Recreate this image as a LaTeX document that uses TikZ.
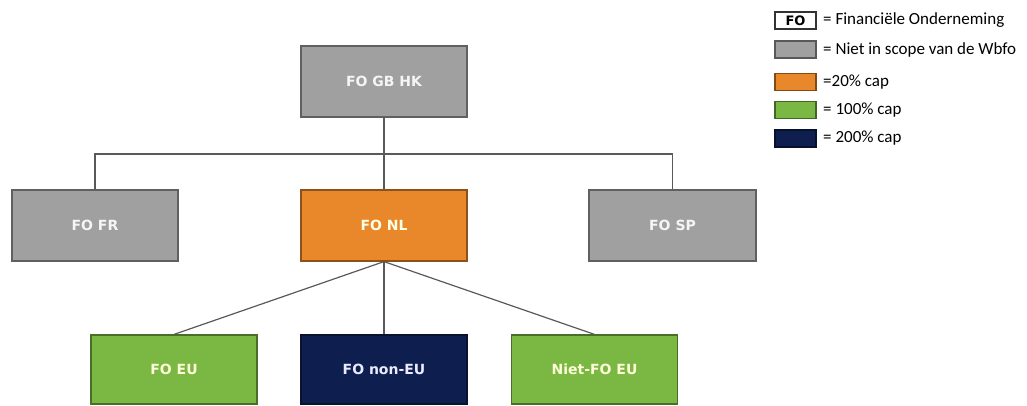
\documentclass[tikz,border=0pt]{standalone}
\usepackage{fontspec}
\setmainfont{Carlito}
\newfontfamily\boxfont{DejaVu Sans}
\begin{document}
\begin{tikzpicture}[x=1pt,y=1pt,
  box/.style={draw=#1!60!black, line width=1.2pt, minimum width=166pt, minimum height=71pt, inner sep=0pt,
    font=\boxfont\bfseries\fontsize{14}{16}\selectfont, text=white!92!gray},
  lbox/.style={draw=#1!55!black, line width=1.1pt, minimum width=41pt, minimum height=17pt, inner sep=0pt},
  ltext/.style={anchor=west, font=\fontsize{17}{19}\selectfont, inner sep=0pt},
  conn/.style={draw=black!65, line width=1.2pt}]
\definecolor{fogrey}{HTML}{A0A0A0}
\definecolor{foorange}{HTML}{E8882A}
\definecolor{fogreen}{HTML}{7AB843}
\definecolor{fonavy}{HTML}{0E1F4F}
\useasboundingbox (0,0) rectangle (1027,405);
% main boxes
\node[box=fogrey, fill=fogrey] (gb) at (384,323.5) {FO GB HK};
\node[box=fogrey, fill=fogrey] (fr) at (95,179.5) {FO FR};
\node[box=foorange, fill=foorange, text=white!90!yellow] (nl) at (384,179.5) {FO NL};
\node[box=fogrey, fill=fogrey, minimum width=167pt] (sp) at (672.5,179.5) {FO SP};
\node[box=fogreen, fill=fogreen, minimum height=69pt, text=white!85!yellow] (eu) at (174,35.5) {FO EU};
\node[box=fonavy, fill=fonavy, minimum height=69pt, text=white!92!blue] (neu) at (384,35.5) {FO non-EU};
\node[box=fogreen, fill=fogreen, minimum height=69pt, text=white!85!yellow] (nfo) at (594.5,35.5) {Niet-FO EU};
% connectors
\coordinate (bar) at (384,251);
\draw[conn] (gb.south) -- (nl.north);
\draw[conn] (fr.north) |- (bar) -| (sp.north);
\draw[conn] (nl.south) -- (eu.north);
\draw[conn] (nl.south) -- (neu.north);
\draw[conn] (nl.south) -- (nfo.north);
% legend
\node[lbox=white, draw=black!80, fill=white, font=\boxfont\bfseries\fontsize{13}{14}\selectfont] (l1) at (795.5,384.5) {FO};
\node[lbox=fogrey, fill=fogrey] (l2) at (795.5,355.5) {};
\node[lbox=foorange, fill=foorange] (l3) at (795.5,323) {};
\node[lbox=fogreen, fill=fogreen] (l4) at (795.5,295) {};
\node[lbox=fonavy, fill=fonavy] (l5) at (795.5,266.5) {};
\node[ltext] (t1) at (823,384.5) {= Financiële Onderneming};
\node[ltext] (t2) at (823,355.5) {= Niet in scope van de Wbfo};
\node[ltext] (t3) at (823,323) {=20\% cap};
\node[ltext] (t4) at (823,295) {= 100\% cap};
\node[ltext] (t5) at (823,266.5) {= 200\% cap};
\end{tikzpicture}
\end{document}
